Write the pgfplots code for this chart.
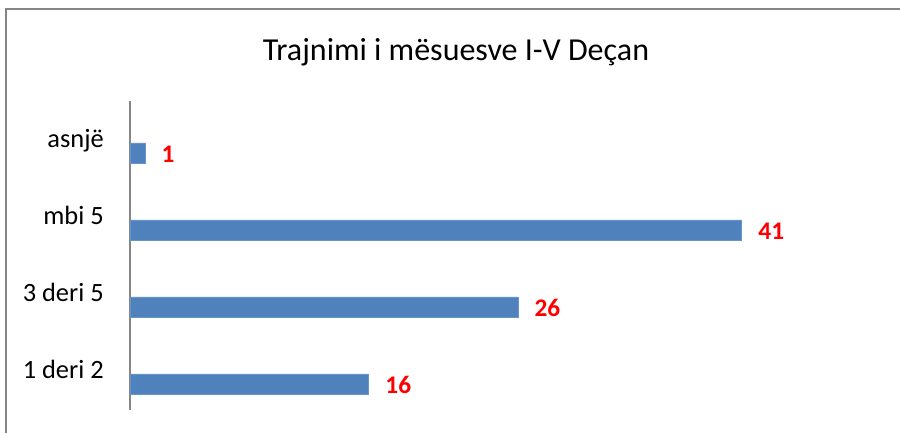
\documentclass[border=0pt]{standalone}
\usepackage{pgfplots}
\pgfplotsset{compat=1.18}
\usepackage{fontspec}
\setmainfont{Carlito}
\definecolor{barblue}{RGB}{79,129,189}
\definecolor{framegray}{RGB}{134,134,134}
\begin{document}
\begin{tikzpicture}[x=0.75pt,y=0.75pt]
\useasboundingbox (0,0) rectangle (900,433);
\draw[framegray, line width=1.1pt] (6,0) -- (6,424) -- (900,424);
\node[anchor=base, font=\fontsize{24}{29}\selectfont] at (456,373) {Trajnimi i mësuesve I-V Deçan};
\begin{axis}[
  at={(97.5pt,17.25pt)}, anchor=south west,
  scale only axis, width=559.5pt, height=231.75pt,
  xmin=0, xmax=50, ymin=-0.338, ymax=3.675,
  axis x line=none,
  axis y line*=left,
  y axis line style={draw=framegray, line width=1.1pt},
  ytick={0,1,2,3},
  yticklabels={1 deri 2, 3 deri 5, mbi 5, asnjë\hspace{4.5pt}},
  major tick length=0pt,
  yticklabel style={anchor=base east, inner sep=0pt, xshift=-19.5pt, yshift=4.1pt, font=\fontsize{19.8}{24}\selectfont},
  xbar, bar width=15pt,
  /pgf/number format/assume math mode=true,
  nodes near coords,
  nodes near coords style={anchor=west, xshift=9pt, yshift=-1pt, text=red, font=\bfseries\fontsize{19}{22}\selectfont},
  clip=false,
]
\addplot[fill=barblue, draw=barblue!85!white] coordinates {(16,0) (26,1) (41,2) (1,3)};
\end{axis}
\end{tikzpicture}
\end{document}
